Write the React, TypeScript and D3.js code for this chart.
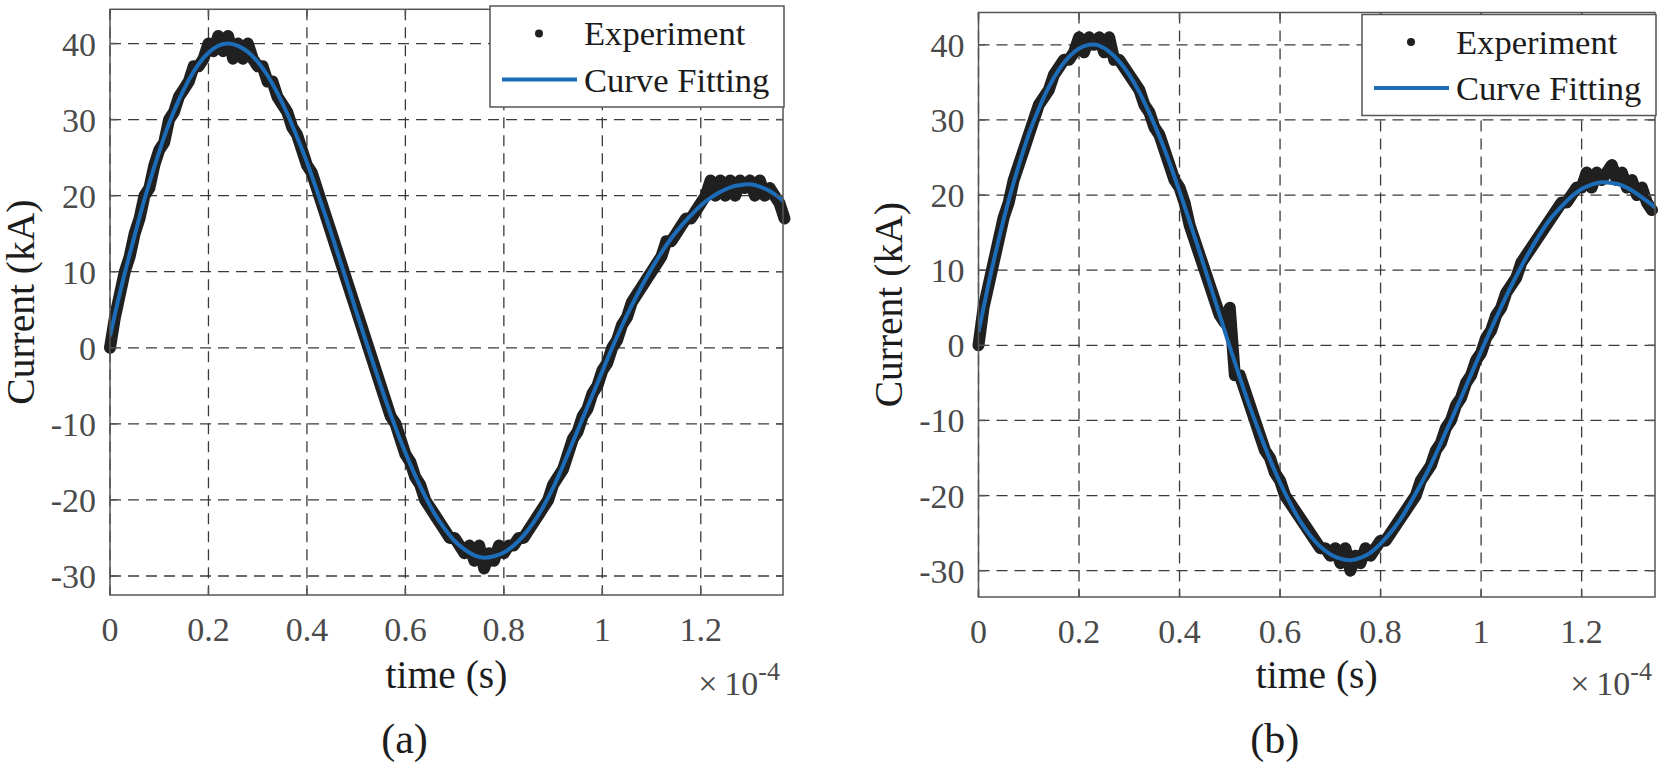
import React from "react";
import * as d3 from "d3";

const W = 1663;
const H = 771;

// sample spacing of the two series, in units of 1e-4 s
const EXP_STEP = 0.01;
const FIT_STEP = 0.02;

const xTickValues = [0, 0.2, 0.4, 0.6, 0.8, 1, 1.2];
const yTickValues = [-30, -20, -10, 0, 10, 20, 30, 40];

// (a) measured current, kA
const experimentA = [
  0, 4, 7, 10, 12, 15, 17, 20, 21, 24,
  26, 27, 30, 31, 33, 34, 35, 37, 37, 38,
  40, 39, 41, 39, 41, 38, 40, 38, 40, 38,
  37, 37, 35, 35, 33, 32, 31, 29, 28, 26,
  24, 23, 21, 19, 17, 15, 13, 11, 9, 7,
  5, 3, 1, -1, -3, -5, -7, -9, -10, -12,
  -14, -15, -17, -18, -20, -21, -22, -23, -24, -25,
  -25, -26, -27, -26, -28, -26, -29, -27, -28, -26,
  -27, -26, -26, -25, -25, -24, -23, -22, -21, -20,
  -18, -17, -16, -14, -12, -11, -9, -8, -6, -5,
  -3, -2, 0, 1, 3, 4, 6, 7, 8, 9,
  10, 11, 12, 14, 14, 15, 16, 17, 17, 18,
  19, 20, 22, 20, 22, 20, 22, 20, 22, 21,
  22, 20, 22, 20, 21, 20, 19, 17,
];

// (a) fitted curve, kA
const fittingA = [
  1.5, 7.2, 12.3, 17.2, 21.7, 25.8, 29.5, 32.6, 35.2, 37.3,
  38.8, 39.7, 40.0, 39.7, 38.9, 37.6, 35.8, 33.5, 30.8, 27.7,
  24.4, 20.7, 16.9, 12.9, 8.9, 4.8, 0.8, -3.1, -6.9, -10.5,
  -13.8, -16.8, -19.5, -21.9, -23.8, -25.4, -26.5, -27.3, -27.6, -27.4,
  -26.9, -26.0, -24.7, -23.0, -20.9, -18.4, -15.5, -12.4, -9.3, -6.2,
  -3.1, 0.0, 2.9, 5.6, 8.1, 10.4, 12.5, 14.4, 16.0, 17.4,
  18.7, 19.7, 20.5, 21.1, 21.4, 21.5, 21.2, 20.6, 19.7, 18.6,
];

// (b) measured current, kA
const experimentB = [
  0, 5, 8, 11, 14, 17, 19, 22, 24, 26,
  28, 30, 32, 33, 34, 36, 37, 38, 38, 39,
  41, 39, 41, 40, 41, 39, 41, 38, 38, 37,
  36, 35, 34, 32, 31, 29, 28, 26, 24, 22,
  21, 19, 16, 14, 12, 10, 8, 6, 4, 3,
  5, -4, -4, -6, -8, -10, -12, -14, -15, -17,
  -18, -20, -21, -22, -23, -24, -25, -26, -27, -27,
  -28, -27, -29, -27, -30, -28, -29, -27, -28, -27,
  -26, -26, -25, -24, -23, -22, -21, -20, -18, -17,
  -16, -14, -13, -11, -10, -8, -7, -5, -4, -2,
  -1, 1, 2, 4, 5, 7, 8, 9, 11, 12,
  13, 14, 15, 16, 17, 18, 19, 19, 20, 21,
  21, 23, 21, 23, 22, 23, 24, 22, 23, 21,
  22, 20, 21, 19, 18,
];

// (b) fitted curve, kA
const fittingB = [
  1.8, 8.2, 14.0, 19.3, 23.9, 28.1, 31.5, 34.4, 36.7, 38.4,
  39.5, 40.0, 39.9, 39.1, 37.8, 36.0, 33.7, 30.9, 27.8, 24.3,
  20.5, 16.5, 12.4, 8.2, 4.0, -0.2, -4.3, -8.2, -11.8, -15.2,
  -18.3, -21.0, -23.4, -25.3, -26.8, -27.8, -28.4, -28.6, -28.3, -27.6,
  -26.4, -24.9, -23.1, -20.9, -18.5, -15.9, -13.0, -10.0, -7.0, -3.9,
  -0.8, 2.2, 5.1, 7.9, 10.5, 12.9, 15.1, 17.0, 18.5, 19.8,
  20.8, 21.4, 21.7, 21.6, 21.3, 20.6, 19.7, 18.7, 17.6,
];

const SERIF = '"Liberation Serif", "Times New Roman", serif';
const AXIS_COLOR = "#555555";
const TICK_TEXT = "#4a4a4a";
const LABEL_COLOR = "#1c1c1c";
const GRID_COLOR = "#3a3a3a";
const DOT_COLOR = "#202020";
const FIT_COLOR = "#1c6cb8";

interface PanelSpec {
  key: string;
  caption: string;
  left: number;
  top: number;
  right: number;
  bottom: number;
  xMax: number;
  yDomain: [number, number];
  legendTop: number;
  experiment: number[];
  fitting: number[];
}

const panels: PanelSpec[] = [
  {
    key: "a",
    caption: "(a)",
    left: 110,
    top: 9.3,
    right: 783,
    bottom: 595,
    xMax: 1.367,
    yDomain: [-32.5, 44.5],
    legendTop: 6,
    experiment: experimentA,
    fitting: fittingA,
  },
  {
    key: "b",
    caption: "(b)",
    left: 978.5,
    top: 12.5,
    right: 1655,
    bottom: 597,
    xMax: 1.346,
    yDomain: [-33.5, 44.3],
    legendTop: 14.5,
    experiment: experimentB,
    fitting: fittingB,
  },
];

function Panel({ p }: { p: PanelSpec }) {
  const x = d3.scaleLinear().domain([0, p.xMax]).range([p.left, p.right]);
  const y = d3.scaleLinear().domain(p.yDomain).range([p.bottom, p.top]);

  const expPts: [number, number][] = p.experiment.map((v, i) => [i * EXP_STEP, v]);
  const fitPts: [number, number][] = p.fitting.map((v, i) => [i * FIT_STEP, v]);

  const line = d3
    .line<[number, number]>()
    .x((d) => x(d[0]))
    .y((d) => y(d[1]));
  const band = line(expPts) || "";
  const fitPath = line.curve(d3.curveNatural)(fitPts) || "";

  const cx = (p.left + p.right) / 2;
  const cy = (p.top + p.bottom) / 2;
  const tickLen = 7;

  const legW = 294;
  const legH = 101;
  const legRight = p.right + 1;
  const legLeft = legRight - legW;
  const legTop = p.legendTop;

  return (
    <g>
      <defs>
        <clipPath id={`clip-${p.key}`}>
          <rect x={p.left} y={p.top} width={p.right - p.left} height={p.bottom - p.top} />
        </clipPath>
      </defs>

      {/* Grid */}
      <g stroke={GRID_COLOR} strokeWidth={1.3} strokeDasharray="11,7">
        {xTickValues.map((t) => (
          <line key={`gx${t}`} x1={x(t)} x2={x(t)} y1={p.top} y2={p.bottom} />
        ))}
        {yTickValues.map((t) => (
          <line key={`gy${t}`} x1={p.left} x2={p.right} y1={y(t)} y2={y(t)} />
        ))}
      </g>

      {/* Experiment: dense samples drawn as a dotted band */}
      <path
        d={band}
        fill="none"
        stroke={DOT_COLOR}
        strokeWidth={12}
        strokeLinejoin="round"
        strokeLinecap="round"
      />
      {expPts.map((d, i) => (
        <circle key={i} cx={x(d[0])} cy={y(d[1])} r={4.6} fill={DOT_COLOR} />
      ))}

      {/* Curve fitting */}
      <path
        d={fitPath}
        fill="none"
        stroke={FIT_COLOR}
        strokeWidth={4}
        clipPath={`url(#clip-${p.key})`}
      />

      {/* Axes box and ticks */}
      <rect
        x={p.left}
        y={p.top}
        width={p.right - p.left}
        height={p.bottom - p.top}
        fill="none"
        stroke={AXIS_COLOR}
        strokeWidth={1.5}
      />
      <g stroke={AXIS_COLOR} strokeWidth={1.5}>
        {xTickValues.map((t) => (
          <g key={`tx${t}`}>
            <line x1={x(t)} x2={x(t)} y1={p.bottom} y2={p.bottom - tickLen} />
            <line x1={x(t)} x2={x(t)} y1={p.top} y2={p.top + tickLen} />
          </g>
        ))}
        {yTickValues.map((t) => (
          <g key={`ty${t}`}>
            <line x1={p.left} x2={p.left + tickLen} y1={y(t)} y2={y(t)} />
            <line x1={p.right} x2={p.right - tickLen} y1={y(t)} y2={y(t)} />
          </g>
        ))}
      </g>

      {/* Tick labels */}
      <g fontFamily={SERIF} fontSize={34} fill={TICK_TEXT}>
        {xTickValues.map((t) => (
          <text key={`lx${t}`} x={x(t)} y={p.bottom + 45.5} textAnchor="middle">
            {String(t)}
          </text>
        ))}
        {yTickValues.map((t) => (
          <text key={`ly${t}`} x={p.left - 14} y={y(t) + 12} textAnchor="end">
            {String(t)}
          </text>
        ))}
        <text x={p.right - 3} y={695} textAnchor="end">
          <tspan>{"\u00d7\u200910"}</tspan>
          <tspan fontSize={26} dy={-15}>
            -4
          </tspan>
        </text>
      </g>

      {/* Axis labels */}
      <g fontFamily={SERIF} fontSize={39.5} fill={LABEL_COLOR}>
        <text x={cx} y={688} textAnchor="middle">
          time (s)
        </text>
        <text
          transform={`translate(${p.left - 76.5},${cy}) rotate(-90)`}
          textAnchor="middle"
        >
          Current (kA)
        </text>
      </g>

      {/* Legend */}
      <g>
        <rect
          x={legLeft}
          y={legTop}
          width={legW}
          height={legH}
          fill="#ffffff"
          stroke={AXIS_COLOR}
          strokeWidth={1.5}
        />
        <circle cx={legLeft + 49} cy={legTop + 27.5} r={4} fill={DOT_COLOR} />
        <line
          x1={legLeft + 12}
          x2={legLeft + 87}
          y1={legTop + 73.5}
          y2={legTop + 73.5}
          stroke={FIT_COLOR}
          strokeWidth={4}
        />
        <g fontFamily={SERIF} fontSize={34.6} fill={LABEL_COLOR}>
          <text x={legLeft + 94} y={legTop + 39}>
            Experiment
          </text>
          <text x={legLeft + 94} y={legTop + 85.5}>
            Curve Fitting
          </text>
        </g>
      </g>

      {/* Caption */}
      <text
        x={cx - 42}
        y={753}
        textAnchor="middle"
        fontFamily={SERIF}
        fontSize={42}
        fill={LABEL_COLOR}
      >
        {p.caption}
      </text>
    </g>
  );
}

export default function App() {
  return (
    <svg
      width={W}
      height={H}
      style={{ position: "absolute", left: 0, top: 0, display: "block", background: "#ffffff" }}
    >
      <rect width={W} height={H} fill="#ffffff" />
      {panels.map((p) => (
        <Panel key={p.key} p={p} />
      ))}
    </svg>
  );
}
